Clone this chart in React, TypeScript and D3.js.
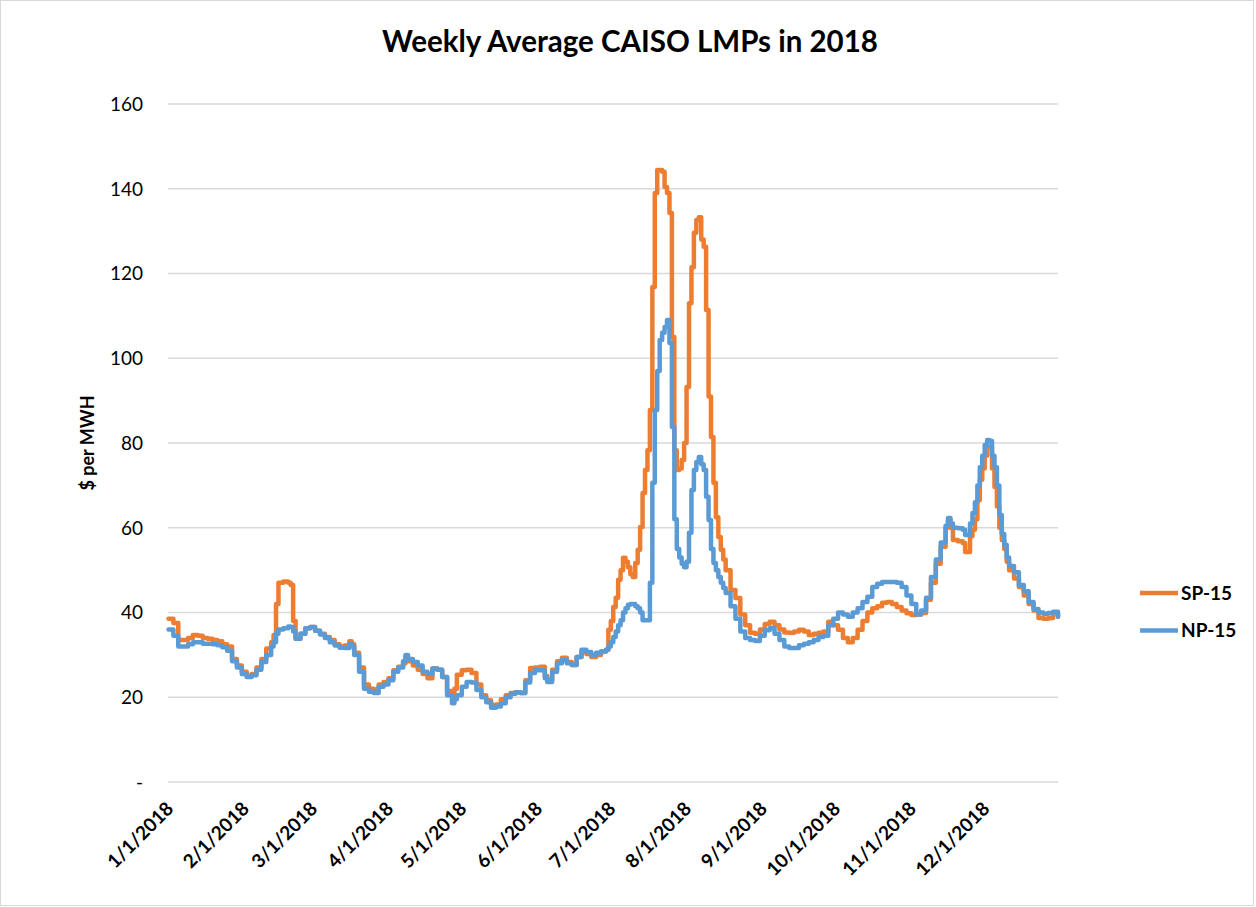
import React from "react";
import * as d3 from "d3";

const dayOffsets = [
  0, 2, 4, 6, 8, 10, 12, 14, 16, 18, 20, 22, 24, 26, 28, 30, 32, 34, 36, 38,
  40, 42, 43, 44, 45, 47, 49, 50, 51, 52, 54, 56, 58, 60, 62, 64, 66, 68, 70,
  72, 74, 75, 76, 78, 80, 82, 84, 86, 88, 90, 92, 94, 96, 97, 98, 100, 102,
  104, 106, 108, 110, 112, 114, 116, 117, 118, 120, 122, 124, 126, 128, 130,
  132, 134, 136, 138, 140, 142, 144, 146, 148, 150, 152, 154, 155, 157, 159,
  161, 163, 165, 167, 169, 171, 173, 175, 177, 179, 180, 181, 182, 183, 184,
  185, 186, 187, 188, 189, 190, 191, 192, 193, 194, 195, 196, 197, 198, 199,
  200, 201, 202, 203, 204, 205, 206, 207, 208, 209, 210, 211, 212, 213, 214,
  215, 216, 217, 218, 219, 220, 221, 222, 223, 224, 225, 226, 227, 228, 230,
  232, 234, 236, 238, 240, 242, 244, 246, 248, 250, 252, 254, 256, 258, 260,
  262, 264, 266, 268, 270, 272, 274, 276, 278, 280, 282, 284, 286, 288, 290,
  292, 294, 296, 298, 300, 302, 304, 306, 308, 310, 312, 314, 316, 318, 319,
  320, 321, 323, 325, 326, 327, 328, 329, 330, 331, 332, 333, 334, 335, 336,
  337, 338, 339, 340, 341, 342, 343, 344, 346, 348, 350, 352, 354, 356, 358,
  360, 362, 364,
];

const sp15 = [
  38.5, 37.5, 33.5, 33.5, 34, 34.7, 34.5, 34, 33.8, 33.5, 33.2, 32.5, 32, 29,
  27.5, 26, 25, 25.5, 27, 29, 31.5, 33, 34.7, 42, 47, 47.3, 47, 46.5, 38, 33.8,
  35, 36.3, 36.6, 35.7, 35, 34.2, 33.5, 32.5, 32, 32.2, 33.2, 32.5, 30.5, 27,
  23, 22, 21.8, 23, 23.6, 24.5, 26.4, 27.2, 28, 29.8, 28.5, 27.5, 26.5, 25.5,
  24.5, 26.8, 26.5, 24.8, 21.5, 20, 22, 25.3, 26.4, 26.5, 25.7, 23, 20.5, 19.3,
  18.2, 18.3, 19.5, 20.5, 21, 21.2, 21, 24, 26.9, 27, 27.2, 25, 24, 26.5, 28.5,
  29.3, 28.3, 27.6, 29.5, 30.7, 30.2, 29.5, 30, 30.8, 31.2, 35.9, 38, 41.3,
  43.5, 47.7, 50, 52.9, 52, 50.7, 49, 48.4, 51.7, 54.8, 60.2, 68.2, 73.6, 78.3,
  87.8, 116.8, 139, 144.4, 144.4, 144, 140.4, 139, 134.3, 105, 78.3, 73.6, 74,
  76, 80, 93.2, 113, 121.5, 129.6, 132.6, 133.3, 128, 126.3, 111.4, 91, 81.4,
  70.6, 62.5, 57.8, 54.8, 52.5, 50, 45.3, 43.4, 39.5, 37, 35.2, 35, 36, 37.3,
  37.8, 37, 36, 35.3, 35.2, 35.5, 35.9, 35.5, 34.7, 35, 35.2, 35.5, 37.8, 37,
  35.9, 34, 33, 34, 35.9, 38, 40, 41, 41.5, 42.3, 42.5, 42, 41.3, 40.5, 39.8,
  39.4, 39.5, 39.9, 43, 47, 51.5, 55.5, 60, 61.8, 60, 57.1, 56.8, 56.4, 54.3,
  54.3, 58, 59.5, 62, 66.5, 71.3, 74, 77, 79.1, 79, 74, 69.6, 65, 60, 57.1, 55,
  52, 50, 48, 46, 44, 42, 40.5, 38.7, 38.5, 38.7, 39.8, 39,
];

const np15 = [
  36, 34.5, 32, 32, 32.5, 33, 33, 32.6, 32.6, 32.5, 32.3, 31.8, 31, 28.5, 27,
  25.5, 24.8, 25.2, 26.5, 28.3, 30, 32, 33, 35, 36, 36.3, 36.7, 36.6, 35.5,
  33.8, 35, 36.3, 36.6, 35.7, 34.8, 34, 33, 32.2, 31.7, 31.6, 32.6, 32, 30, 26,
  22, 21.3, 21, 22.5, 23, 24, 26, 27, 28.5, 30, 29, 28.3, 27.5, 26, 25.5, 26.8,
  26.5, 24.8, 20.5, 18.6, 19.5, 20.5, 22.5, 23.6, 23.5, 21.7, 20, 18.8, 17.5,
  17.8, 18.6, 20, 20.8, 21.2, 21, 23.5, 25.7, 26.4, 26.4, 24.5, 23.6, 26, 28,
  28.8, 28, 27.6, 29.5, 31.2, 30.7, 30, 30.5, 30.8, 31.2, 32, 33, 34.2, 35.5,
  37, 38.2, 40, 41, 41.8, 42, 42, 41.5, 41, 40, 38.2, 38.2, 38.2, 47, 70.6,
  87.8, 97, 104.3, 106, 107.4, 109, 103.6, 83.8, 62, 55, 53, 51.5, 50.7, 52,
  58.8, 68.9, 73.6, 75.5, 76.7, 75, 73.6, 67.3, 61.8, 55, 51.7, 50, 48.4, 47,
  45.8, 44.6, 41.5, 38.5, 35.5, 34, 33.5, 33.3, 34.5, 35.8, 36.3, 35, 33.5, 32,
  31.6, 31.6, 32.3, 32.6, 33, 33.5, 34.2, 34.5, 37, 38.5, 40, 39.5, 39, 40, 41,
  42.5, 43.7, 46, 46.8, 47.2, 47.2, 47.2, 47, 46, 44, 42, 39.5, 40.5, 43.5,
  48.4, 52.5, 56.5, 60.5, 62.3, 61, 60, 59.9, 59.5, 58.3, 58.3, 61, 63.5, 66,
  70, 74.3, 77, 79.5, 80.7, 80.5, 77, 74.3, 70, 63, 58.5, 56, 53, 51, 49.5,
  46.5, 45, 42.5, 40.8, 40, 39.7, 39.9, 40.2, 39,
];

const monthLabels = [
  "1/1/2018", "2/1/2018", "3/1/2018", "4/1/2018", "5/1/2018", "6/1/2018",
  "7/1/2018", "8/1/2018", "9/1/2018", "10/1/2018", "11/1/2018", "12/1/2018",
];
const yTicks = [0, 20, 40, 60, 80, 100, 120, 140, 160];

const seriesNames = ["SP-15", "NP-15"];
const colors = ["#ED7D31", "#5B9BD5"];

const FONT = "Lato, 'Open Sans', sans-serif";

const App = () => {
  const x = d3
    .scaleTime()
    .domain([new Date(2018, 0, 1), new Date(2018, 11, 31)])
    .range([168.5, 1058]);
  const y = d3.scaleLinear().domain([0, 160]).range([782, 104]);

  const toDate = (d: number) => d3.timeDay.offset(new Date(2018, 0, 1), d);

  const line = d3
    .line<[number, number]>()
    .x((p) => x(toDate(p[0])))
    .y((p) => y(p[1]))
    .curve(d3.curveStepAfter);

  const series = [sp15, np15].map((vals) =>
    dayOffsets.map((d, i) => [d, vals[i]] as [number, number])
  );

  const monthDates = monthLabels.map((_, i) => new Date(2018, i, 1));

  return (
    <div style={{ position: "absolute", left: 0, top: 0 }}>
      <svg width={1256} height={907} style={{ display: "block" }}>
        <rect x={0} y={0} width={1256} height={907} fill="#fff" />
        <rect
          x={0.5}
          y={0.5}
          width={1253}
          height={905}
          fill="none"
          stroke="#d9d9d9"
        />

        <text
          x={630}
          y={52}
          textAnchor="middle"
          fontFamily={FONT}
          fontWeight="bold"
          fontSize={29.5}
        >
          Weekly Average CAISO LMPs in 2018
        </text>

        {/* gridlines + y ticks */}
        {yTicks.map((t) => (
          <g key={t}>
            <line
              x1={168}
              x2={1058}
              y1={y(t)}
              y2={y(t)}
              stroke="#d9d9d9"
              strokeWidth={1.3}
            />
            <text
              x={143}
              y={y(t)}
              dy="0.36em"
              textAnchor="end"
              fontFamily={FONT}
              fontSize={19}
              fill="#000"
            >
              {t === 0 ? "-" : t}
            </text>
          </g>
        ))}

        <text
          transform="translate(94,443) rotate(-90)"
          textAnchor="middle"
          fontFamily={FONT}
          fontWeight="bold"
          fontSize={18}
        >
          $ per MWH
        </text>

        {/* x labels */}
        {monthDates.map((d, i) => (
          <text
            key={i}
            transform={`translate(${x(d) + 6},${810}) rotate(-45)`}
            textAnchor="end"
            fontFamily={FONT}
            fontWeight="bold"
            fontSize={19}
          >
            {monthLabels[i]}
          </text>
        ))}

        {series.map((s, i) => (
          <path
            key={i}
            d={line(s) || ""}
            fill="none"
            stroke={colors[i]}
            strokeWidth={4.5}
            strokeLinejoin="round"
            strokeLinecap="round"
          />
        ))}

        {/* legend */}
        {seriesNames.map((n, i) => (
          <g key={n} transform={`translate(1140,${593 + i * 37.5})`}>
            <line x1={0} x2={38} y1={0} y2={0} stroke={colors[i]} strokeWidth={4.5} />
            <text
              x={41}
              y={0}
              dy="0.36em"
              fontFamily={FONT}
              fontWeight="bold"
              fontSize={19}
            >
              {n}
            </text>
          </g>
        ))}
      </svg>
    </div>
  );
};

export default App;
